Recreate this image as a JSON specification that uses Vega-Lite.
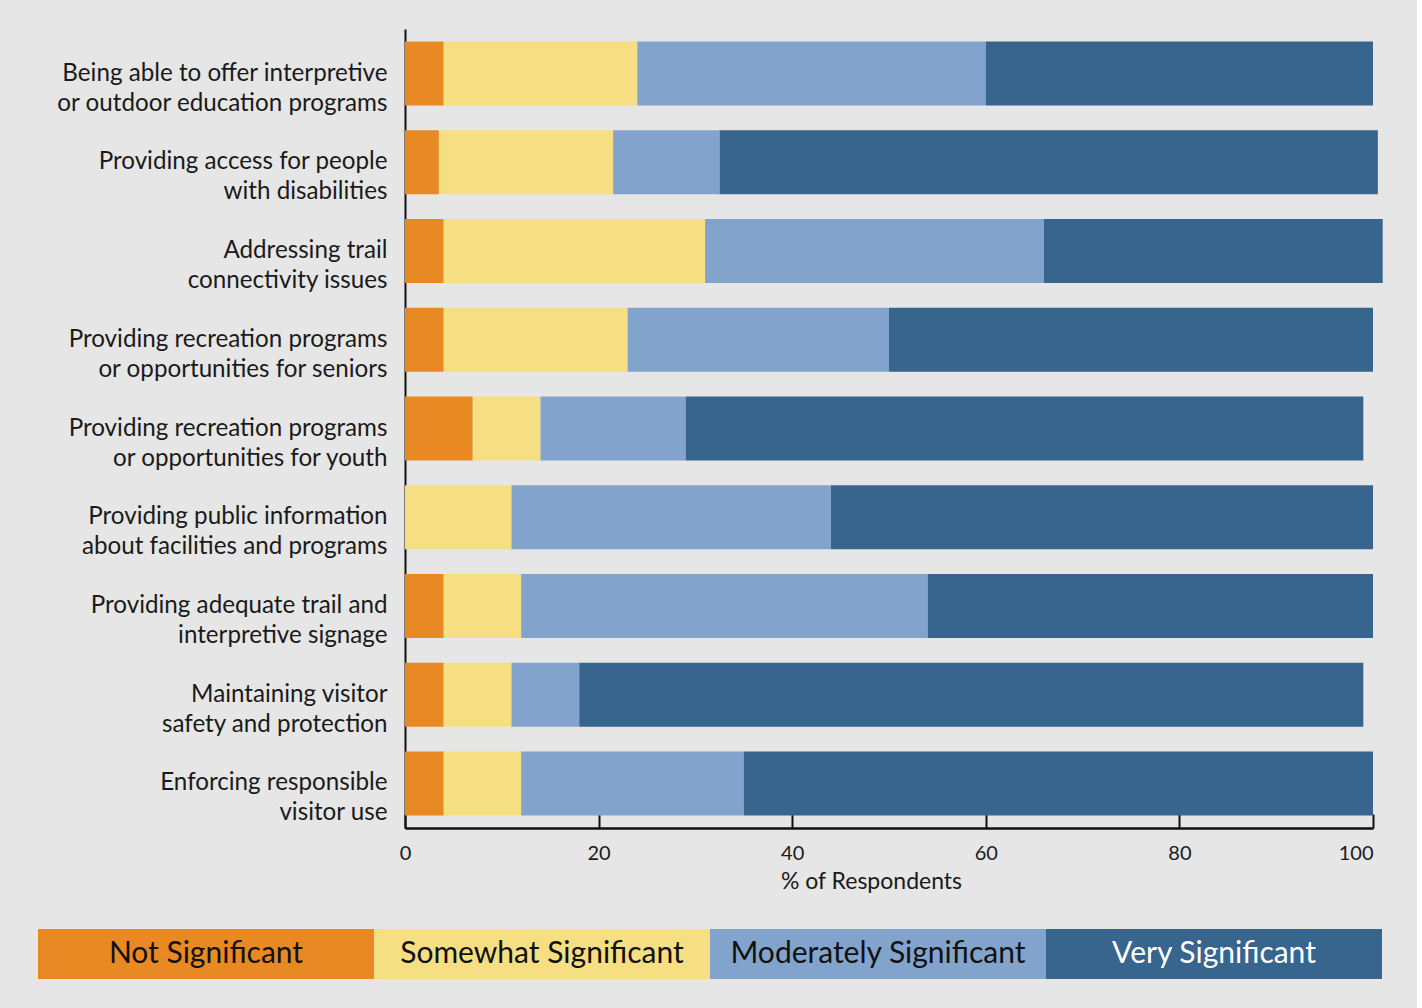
{
  "$schema": "https://vega.github.io/schema/vega-lite/v6.json",
  "background": "#e6e6e6",
  "padding": {"left": 38, "top": 29, "right": 34, "bottom": 29},
  "config": {
    "view": {"stroke": null},
    "font": "Lato",
    "axis": {"grid": false}
  },
  "datasets": {
    "responses": [
      {"issue": "Being able to offer interpretive\nor outdoor education programs", "level": "Not Significant", "rank": 1, "pct": 4},
      {"issue": "Being able to offer interpretive\nor outdoor education programs", "level": "Somewhat Significant", "rank": 2, "pct": 20},
      {"issue": "Being able to offer interpretive\nor outdoor education programs", "level": "Moderately Significant", "rank": 3, "pct": 36},
      {"issue": "Being able to offer interpretive\nor outdoor education programs", "level": "Very Significant", "rank": 4, "pct": 40},
      {"issue": "Providing access for people\nwith disabilities", "level": "Not Significant", "rank": 1, "pct": 3.5},
      {"issue": "Providing access for people\nwith disabilities", "level": "Somewhat Significant", "rank": 2, "pct": 18},
      {"issue": "Providing access for people\nwith disabilities", "level": "Moderately Significant", "rank": 3, "pct": 11},
      {"issue": "Providing access for people\nwith disabilities", "level": "Very Significant", "rank": 4, "pct": 68},
      {"issue": "Addressing trail\nconnectivity issues", "level": "Not Significant", "rank": 1, "pct": 4},
      {"issue": "Addressing trail\nconnectivity issues", "level": "Somewhat Significant", "rank": 2, "pct": 27},
      {"issue": "Addressing trail\nconnectivity issues", "level": "Moderately Significant", "rank": 3, "pct": 35},
      {"issue": "Addressing trail\nconnectivity issues", "level": "Very Significant", "rank": 4, "pct": 35},
      {"issue": "Providing recreation programs\nor opportunities for seniors", "level": "Not Significant", "rank": 1, "pct": 4},
      {"issue": "Providing recreation programs\nor opportunities for seniors", "level": "Somewhat Significant", "rank": 2, "pct": 19},
      {"issue": "Providing recreation programs\nor opportunities for seniors", "level": "Moderately Significant", "rank": 3, "pct": 27},
      {"issue": "Providing recreation programs\nor opportunities for seniors", "level": "Very Significant", "rank": 4, "pct": 50},
      {"issue": "Providing recreation programs\nor opportunities for youth", "level": "Not Significant", "rank": 1, "pct": 7},
      {"issue": "Providing recreation programs\nor opportunities for youth", "level": "Somewhat Significant", "rank": 2, "pct": 7},
      {"issue": "Providing recreation programs\nor opportunities for youth", "level": "Moderately Significant", "rank": 3, "pct": 15},
      {"issue": "Providing recreation programs\nor opportunities for youth", "level": "Very Significant", "rank": 4, "pct": 70},
      {"issue": "Providing public information\nabout facilities and programs", "level": "Not Significant", "rank": 1, "pct": 0},
      {"issue": "Providing public information\nabout facilities and programs", "level": "Somewhat Significant", "rank": 2, "pct": 11},
      {"issue": "Providing public information\nabout facilities and programs", "level": "Moderately Significant", "rank": 3, "pct": 33},
      {"issue": "Providing public information\nabout facilities and programs", "level": "Very Significant", "rank": 4, "pct": 56},
      {"issue": "Providing adequate trail and\ninterpretive signage", "level": "Not Significant", "rank": 1, "pct": 4},
      {"issue": "Providing adequate trail and\ninterpretive signage", "level": "Somewhat Significant", "rank": 2, "pct": 8},
      {"issue": "Providing adequate trail and\ninterpretive signage", "level": "Moderately Significant", "rank": 3, "pct": 42},
      {"issue": "Providing adequate trail and\ninterpretive signage", "level": "Very Significant", "rank": 4, "pct": 46},
      {"issue": "Maintaining visitor\nsafety and protection", "level": "Not Significant", "rank": 1, "pct": 4},
      {"issue": "Maintaining visitor\nsafety and protection", "level": "Somewhat Significant", "rank": 2, "pct": 7},
      {"issue": "Maintaining visitor\nsafety and protection", "level": "Moderately Significant", "rank": 3, "pct": 7},
      {"issue": "Maintaining visitor\nsafety and protection", "level": "Very Significant", "rank": 4, "pct": 81},
      {"issue": "Enforcing responsible\nvisitor use", "level": "Not Significant", "rank": 1, "pct": 4},
      {"issue": "Enforcing responsible\nvisitor use", "level": "Somewhat Significant", "rank": 2, "pct": 8},
      {"issue": "Enforcing responsible\nvisitor use", "level": "Moderately Significant", "rank": 3, "pct": 23},
      {"issue": "Enforcing responsible\nvisitor use", "level": "Very Significant", "rank": 4, "pct": 65}
    ],
    "levels": [
      {"level": "Not Significant"},
      {"level": "Somewhat Significant"},
      {"level": "Moderately Significant"},
      {"level": "Very Significant"}
    ]
  },
  "spacing": 36,
  "vconcat": [
    {
      "width": 968,
      "height": 799,
      "data": {"name": "responses"},
      "mark": {"type": "bar"},
      "encoding": {
        "y": {
          "field": "issue",
          "type": "nominal",
          "sort": null,
          "scale": {"paddingInner": 0.279, "paddingOuter": 0.141},
          "axis": {
            "title": null,
            "ticks": false,
            "domainColor": "#111111",
            "domainWidth": 2,
            "labelFontSize": 24.2,
            "labelLineHeight": 30,
            "labelColor": "#1a1a1a",
            "labelPadding": 18,
            "labelLimit": 0,
            "minExtent": 367,
            "maxExtent": 367,
            "labelExpr": "split(datum.value, '\\n')"
          }
        },
        "x": {
          "field": "pct",
          "type": "quantitative",
          "stack": "zero",
          "scale": {"domain": [0, 100], "nice": false},
          "axis": {
            "title": "% of Respondents",
            "values": [0, 20, 40, 60, 80, 100],
            "domainColor": "#111111",
            "domainWidth": 2.5,
            "tickColor": "#111111",
            "tickWidth": 2,
            "tickSize": -14,
            "labelFontSize": 20,
            "labelColor": "#1a1a1a",
            "labelPadding": 29,
            "labelFlush": false,
            "labelAlign": {"expr": "datum.value === 100 ? 'right' : 'center'"},
            "titleFontSize": 23,
            "titleFontWeight": "normal",
            "titleColor": "#1a1a1a",
            "titlePadding": 7,
            "titleX": 466
          }
        },
        "color": {
          "field": "level",
          "type": "nominal",
          "scale": {
            "domain": ["Not Significant", "Somewhat Significant", "Moderately Significant", "Very Significant"],
            "range": ["#e88923", "#f6de82", "#82a4cc", "#37658d"]
          },
          "legend": null
        },
        "order": {"field": "rank", "type": "quantitative"}
      }
    },
    {
      "width": 977,
      "height": 50,
      "data": {"name": "levels"},
      "encoding": {
        "x": {
          "field": "level",
          "type": "nominal",
          "sort": null,
          "scale": {"paddingInner": 0, "paddingOuter": 0, "range": [-367, 977]},
          "axis": null
        }
      },
      "layer": [
        {
          "mark": {"type": "bar"},
          "encoding": {
            "color": {"field": "level", "type": "nominal", "legend": null}
          }
        },
        {
          "mark": {"type": "text", "fontSize": 30, "baseline": "middle", "align": "center"},
          "encoding": {
            "text": {"field": "level"},
            "y": {"value": 25},
            "color": {
              "condition": {"test": "datum.level === 'Very Significant'", "value": "#ffffff"},
              "value": "#111111"
            }
          }
        }
      ]
    }
  ]
}
